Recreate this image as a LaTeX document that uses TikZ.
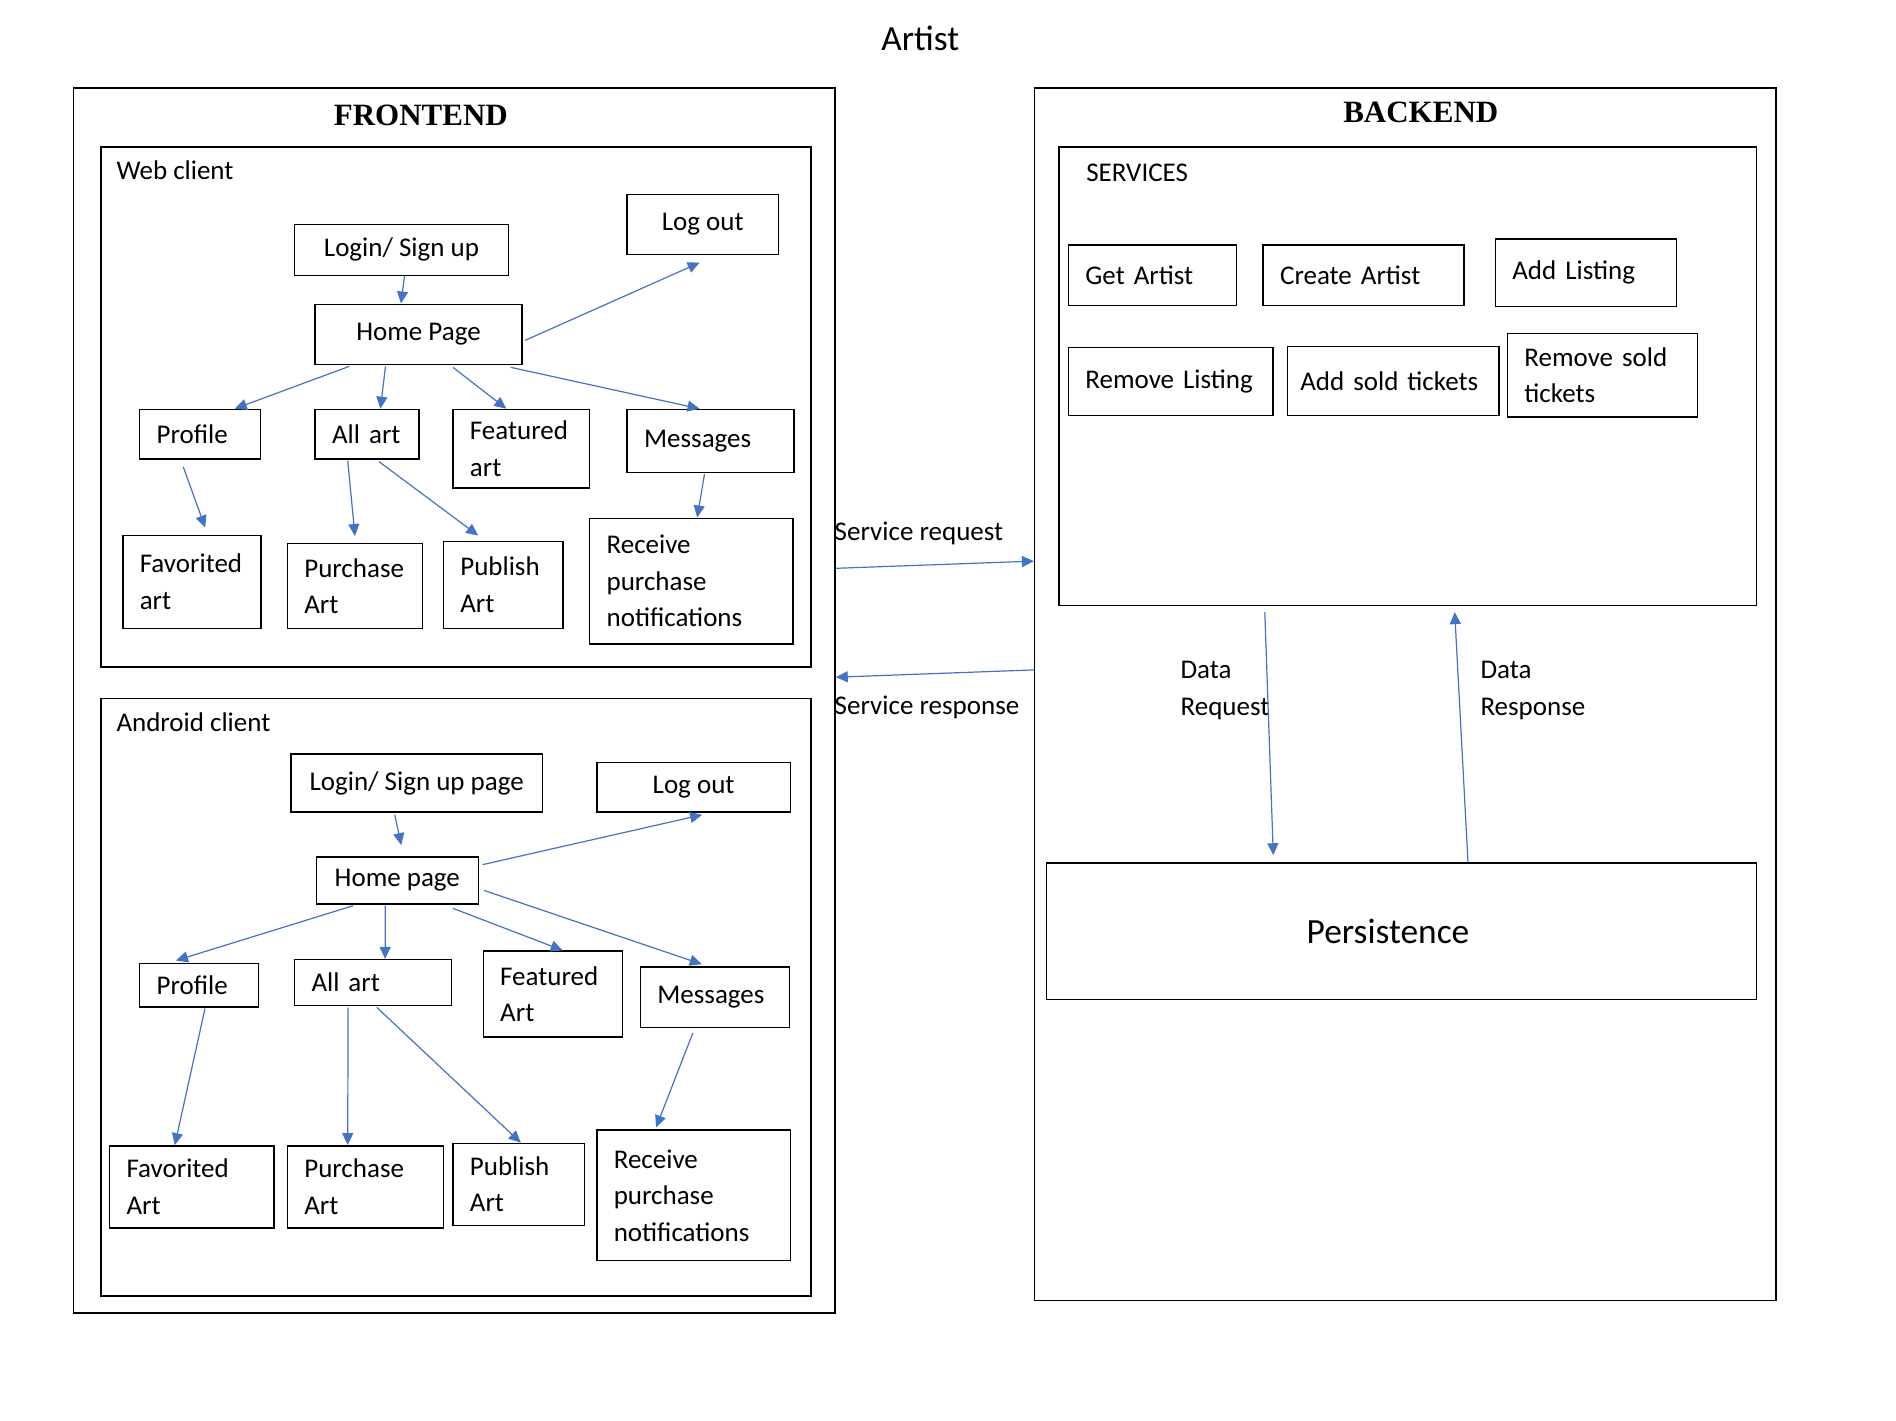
\documentclass[tikz,border=0pt]{standalone}
\usepackage{fontspec}
\setmainfont{Carlito}
\newfontfamily\titlefont{Liberation Serif}
\usetikzlibrary{arrows.meta}
\definecolor{arrowblue}{HTML}{4472C4}
\hyphenpenalty=10000
\exhyphenpenalty=10000

\begin{document}
\begin{tikzpicture}[x=0.5pt,y=-0.5pt]
\tikzstyle{every node}+=[inner sep=0pt, font=\fontsize{13.5}{18.2}\selectfont]
\tikzstyle{frame}=[draw, line width=0.7pt, anchor=north west]
\tikzstyle{cbox}=[frame, align=center]
\tikzstyle{lbox}=[frame, align=left, inner xsep=8.5pt]
\tikzstyle{heading}=[font=\titlefont\bfseries\fontsize{15.5}{18}\selectfont]
\tikzstyle{tag}=[anchor=west, align=left]
\tikzstyle{flow}=[draw=arrowblue, line width=0.6pt, -{Triangle[length=6pt,width=5.5pt]}]
\useasboundingbox (0,0) rectangle (1896,1420);

\node[font=\fontsize{17.7}{20}\selectfont] (artist) at (920.2,38.7) {Artist};

\node[frame, minimum width=380.9pt, minimum height=612.5pt] (frontend) at (72.6,87.1) {};
\node[heading] (fronttitle) at (420.8,114.9) {FRONTEND};
\node[frame, minimum width=354.9pt, minimum height=260pt] (web) at (100.4,146.3) {};
\node[tag] (webtitle) at (116.1,170.5) {Web client};
\node[frame, minimum width=354.9pt, minimum height=298.7pt] (android) at (100.4,697.7) {};
\node[tag] (androidtitle) at (116.1,721.9) {Android client};

\node[frame, minimum width=370.6pt, minimum height=606.4pt] (backend) at (1033.9,87.1) {};
\node[heading] (backtitle) at (1420.8,112.5) {BACKEND};
\node[frame, minimum width=348.9pt, minimum height=229.2pt] (services) at (1058.1,146.3) {};
\node[tag] (servicestitle) at (1085.9,172.9) {SERVICES};

\node[cbox, minimum width=75.6pt, minimum height=30.2pt] (webLogout) at (626.4,193.5) {Log out};
\node[cbox, minimum width=107pt, minimum height=25.4pt] (webLogin) at (293.8,223.7) {Login/ Sign up};
\node[cbox, minimum width=103.4pt, minimum height=30.2pt] (webHome) at (314.4,303.5) {Home Page};
\node[lbox, minimum width=60.5pt, text width=43.5pt, minimum height=24.8pt] (webProfile) at (139,408.7) {Profile};
\node[lbox, minimum width=52pt, text width=35pt, minimum height=24.8pt] (webAll) at (314.4,408.7) {All art};
\node[lbox, minimum width=68.4pt, text width=51.4pt, minimum height=39.3pt] (webFeatured) at (452.2,408.7) {Featured art};
\node[lbox, minimum width=83.4pt, text width=66.4pt, minimum height=31.5pt] (webMessages) at (626.4,408.7) {Messages};
\node[lbox, minimum width=69pt, text width=52pt, minimum height=46.6pt] (webFavorited) at (122.1,534.5) {Favorited art};
\node[lbox, minimum width=67.7pt, text width=50.7pt, minimum height=42.3pt] (webPurchase) at (286.6,543) {Purchase Art};
\node[lbox, minimum width=59.9pt, text width=42.9pt, minimum height=43.6pt] (webPublish) at (442.6,540.5) {Publish Art};
\node[lbox, minimum width=101.6pt, text width=84.6pt, minimum height=62.9pt] (webReceive) at (588.9,517.5) {Receive purchase notifications};

\node[cbox, minimum width=125.8pt, minimum height=29pt] (andLogin) at (290.2,753.3) {Login/ Sign up page};
\node[cbox, minimum width=96.8pt, minimum height=24.8pt] (andLogout) at (596.1,761.8) {Log out};
\node[cbox, minimum width=81pt, minimum height=23.6pt] (andHome) at (315.6,856.1) {Home page};
\node[lbox, minimum width=59.3pt, text width=42.3pt, minimum height=21.8pt] (andProfile) at (139,962.5) {Profile};
\node[lbox, minimum width=78.6pt, text width=61.6pt, minimum height=23pt] (andAll) at (293.8,958.9) {All art};
\node[lbox, minimum width=69.5pt, text width=52.5pt, minimum height=43pt] (andFeatured) at (482.5,950.4) {Featured Art};
\node[lbox, minimum width=74.4pt, text width=57.4pt, minimum height=30.2pt] (andMessages) at (639.7,966.2) {Messages};
\node[lbox, minimum width=82.3pt, text width=65.3pt, minimum height=41.1pt] (andFavorited) at (108.8,1145.1) {Favorited Art};
\node[lbox, minimum width=78pt, text width=61pt, minimum height=41.1pt] (andPurchase) at (286.6,1145.1) {Purchase Art};
\node[lbox, minimum width=65.9pt, text width=48.9pt, minimum height=41.1pt] (andPublish) at (452.2,1142.7) {Publish Art};
\node[lbox, minimum width=96.8pt, text width=79.8pt, minimum height=65.3pt] (andReceive) at (596.1,1129.4) {Receive purchase notifications};

\node[lbox, minimum width=84pt, text width=67pt, minimum height=30.2pt] (getArtist) at (1067.7,244.3) {Get Artist};
\node[lbox, minimum width=100.4pt, text width=83.4pt, minimum height=30.2pt] (createArtist) at (1262.4,244.3) {Create Artist};
\node[lbox, minimum width=90.7pt, text width=73.7pt, minimum height=33.9pt] (addListing) at (1494.6,238.2) {Add Listing};
\node[lbox, minimum width=102.2pt, text width=85.2pt, minimum height=33.9pt] (removeListing) at (1067.7,347) {Remove Listing};
\node[lbox, inner xsep=6.5pt, minimum width=105.8pt, text width=92.8pt, minimum height=34.5pt] (addSold) at (1286.6,345.8) {Add sold tickets};
\node[lbox, minimum width=94.9pt, text width=77.9pt, minimum height=41.8pt] (removeSold) at (1506.7,332.5) {Remove sold tickets};
\node[lbox, inner xsep=130pt, minimum width=354.9pt, text width=94.9pt, minimum height=68.3pt, font=\fontsize{17.7}{20}\selectfont] (persistence) at (1046,862.2) {Persistence};

\node[tag] (reqlabel) at (834.3,533.3) {Service request};
\node[tag] (resplabel) at (834.3,707.4) {Service response};
\node[tag] (datareqlabel) at (1180.2,690.5) {Data\\Request};
\node[tag] (datareslabel) at (1480.1,690.5) {Data\\Response};

\draw[flow] ([shift={(3,0)}]webLogin.south) -- ([shift={(-17.5,0)}]webHome.north);
\draw[flow] ([shift={(2.4,6)}]webHome.east) -- ([shift={(-3,7.3)}]webLogout.south);
\draw[flow] ([shift={(35,1)}]webHome.south west) -- ([shift={(-26.6,0)}]webProfile.north east);
\draw[flow] ([shift={(-33,1)}]webHome.south) -- ([shift={(13.3,0)}]webAll.north);
\draw[flow] ([shift={(34.4,2)}]webHome.south) -- ([shift={(-15,0)}]webFeatured.north);
\draw[flow] ([shift={(-12,2)}]webHome.south east) -- ([shift={(-11,0)}]webMessages.north);
\draw[flow] ([shift={(-17,7)}]webProfile.south) -- ([shift={(13.4,-7)}]webFavorited.north);
\draw[flow] ([shift={(-19.4,1)}]webAll.south) -- ([shift={(0,-7)}]webPurchase.north);
\draw[flow] ([shift={(12,2)}]webAll.south) -- ([shift={(-25,-5)}]webPublish.north);
\draw[flow] ([shift={(-6,1)}]webMessages.south) -- ([shift={(6,0)}]webReceive.north);

\draw[flow] ([shift={(-22,2)}]andLogin.south) -- ([shift={(4,-11)}]andHome.north);
\draw[flow] ([shift={(3.7,8.5)}]andHome.north east) -- ([shift={(8.5,2)}]andLogout.south);
\draw[flow] ([shift={(37.5,1)}]andHome.south west) -- ([shift={(-23,-2)}]andProfile.north);
\draw[flow] ([shift={(-12,1)}]andHome.south) -- ([shift={(12,0)}]andAll.north);
\draw[flow] ([shift={(55.6,3.6)}]andHome.south) -- ([shift={(10,0)}]andFeatured.north);
\draw[flow] ([shift={(5,10)}]andHome.east) -- ([shift={(-13,-2)}]andMessages.north);
\draw[flow] ([shift={(6,1)}]andProfile.south) -- ([shift={(-17,0)}]andFavorited.north);
\draw[flow] ([shift={(-25,1)}]andAll.south) -- ([shift={(-17.6,0)}]andPurchase.north);
\draw[flow] ([shift={(3.6,1)}]andAll.south) -- ([shift={(2,0)}]andPublish.north);
\draw[flow] ([shift={(-22,5)}]andMessages.south) -- ([shift={(-37.5,-2)}]andReceive.north);

\draw[flow] ([shift={(0,481.2)}]frontend.north east) -- ([shift={(0,474)}]backend.north west);
\draw[flow] ([shift={(0,582.8)}]backend.north west) -- ([shift={(0,590.1)}]frontend.north east);
\draw[flow] ([shift={(206.7,6)}]services.south west) -- ([shift={(227.3,-7)}]persistence.north west);
\draw[flow] ([shift={(422,0)}]persistence.north west) -- ([shift={(396.6,6)}]services.south west);
\end{tikzpicture}
\end{document}
